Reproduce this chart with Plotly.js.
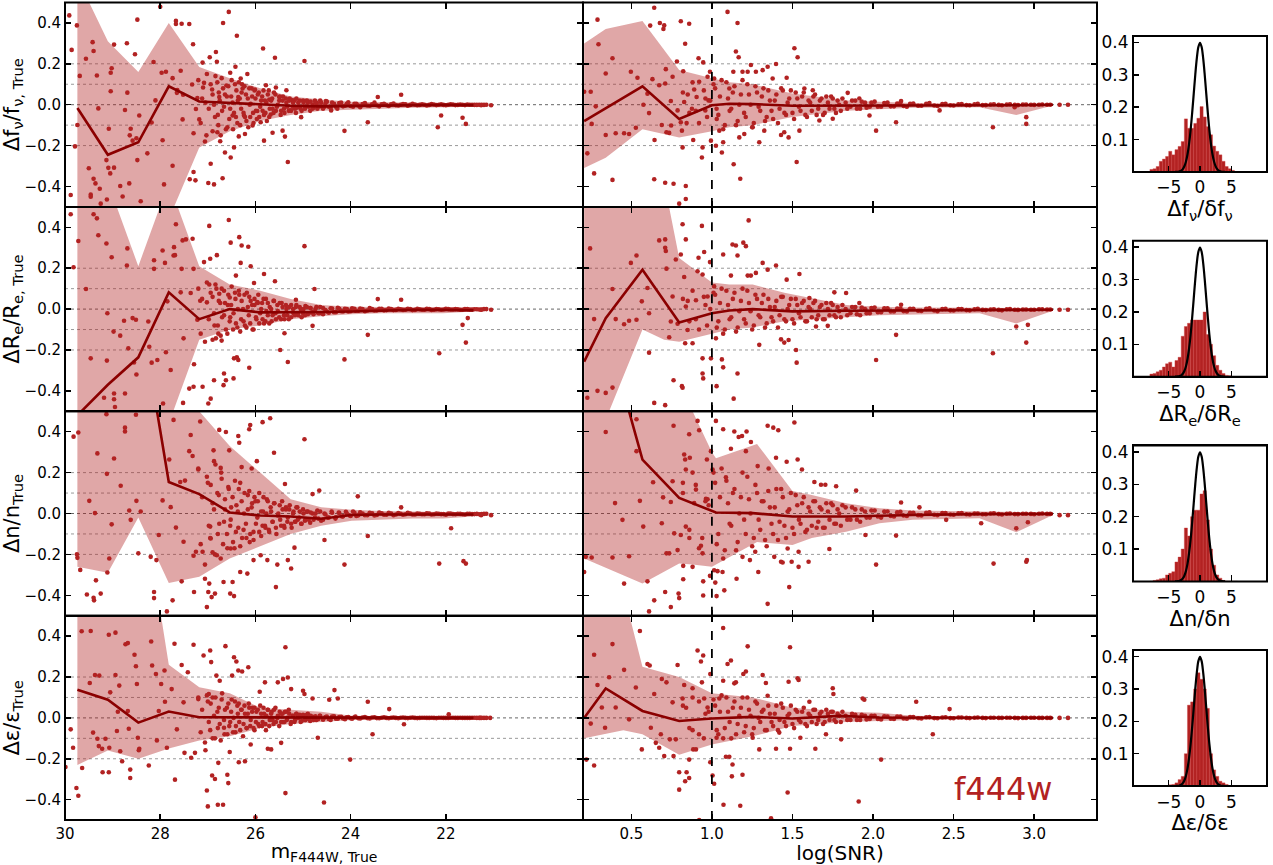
<!DOCTYPE html>
<html><head><meta charset="utf-8">
<script src="https://cdn.plot.ly/plotly-3.0.1.min.js"></script>
<style>html,body{margin:0;padding:0;background:#fff}#chart{width:1273px;height:865px}</style>
</head><body><div id="chart"></div>
<script>
// ---------------- DATA ----------------
const magTicks = [30, 28, 26, 24, 22];
const snrTicks = [0.5, 1.0, 1.5, 2.0, 2.5, 3.0];
const dyTicks = [-0.4, -0.2, 0, 0.2, 0.4];
const refLevels = [-0.2, -0.1, 0, 0.1, 0.2];
const histXTicks = [-5, 0, 5];
const histYTicks = [0.1, 0.2, 0.3, 0.4];
const snrCut = 1.0;

const rowTitles = ["Δf<sub>ν</sub>/f<sub>ν, True</sub>", "ΔR<sub>e</sub>/R<sub>e, True</sub>", "Δn/n<sub>True</sub>", "Δε/ε<sub>True</sub>"];
const histTitles = ["Δf<sub>ν</sub>/δf<sub>ν</sub>", "ΔR<sub>e</sub>/δR<sub>e</sub>", "Δn/δn", "Δε/δε"];
const magTitle = "m<sub>F444W, True</sub>";
const snrTitle = "log(SNR)";
const filterLabel = "f444w";

// binned medians and percentile bands vs magnitude
const magBins = [29.74, 29.10, 28.46, 27.82, 27.18, 26.54, 25.90, 25.26, 24.62, 23.98, 23.34, 22.70, 22.06, 21.42];
const medL1 = [-0.016, -0.245, -0.184, 0.09, 0.016, 0.008, 0.002, -0.005, -0.008, -0.006, -0.004, -0.002, -0.001, -0.002];
const upL1 = [0.62, 0.31, 0.16, 0.40, 0.185, 0.13, 0.08, 0.04, 0.025, 0.015, 0.012, 0.01, 0.008, 0.006];
const loL1 = [-0.6, -0.58, -0.56, -0.56, -0.21, -0.13, -0.08, -0.05, -0.03, -0.025, -0.02, -0.015, -0.012, -0.01];
const medL2 = [-0.52, -0.37, -0.236, 0.082, -0.049, 0.0, -0.016, -0.016, -0.014, -0.012, -0.008, -0.004, -0.004, -0.006];
const upL2 = [0.65, 0.62, 0.21, 0.62, 0.21, 0.12, 0.09, 0.05, 0.02, 0.012, 0.01, 0.008, 0.007, 0.006];
const loL2 = [-0.6, -0.6, -0.6, -0.56, -0.15, -0.10, -0.08, -0.05, -0.035, -0.025, -0.02, -0.02, -0.02, -0.012];
const medL3 = [null, null, 1.05, 0.154, 0.095, 0.005, -0.01, -0.015, -0.026, -0.007, -0.005, -0.004, -0.004, -0.005];
const upL3 = [0.62, 0.62, 0.62, 0.62, 0.5, 0.33, 0.2, 0.07, 0.03, 0.018, 0.012, 0.01, 0.008, 0.005];
const loL3 = [-0.26, -0.29, -0.02, -0.34, -0.31, -0.22, -0.16, -0.10, -0.06, -0.035, -0.03, -0.025, -0.025, -0.015];
const medL4 = [0.138, 0.089, -0.023, 0.031, 0.003, 0.003, 0.003, 0.002, 0.002, 0.001, 0.0, 0.0, 0.0, 0.0];
const upL4 = [0.62, 0.62, 1.2, 0.26, 0.15, 0.12, 0.05, 0.04, 0.03, 0.01, 0.008, 0.006, 0.005, 0.004];
const loL4 = [-0.23, -0.16, -0.2, -0.15, -0.11, -0.09, -0.05, -0.03, -0.02, -0.01, -0.008, -0.006, -0.005, -0.004];

// binned medians and bands vs log(SNR)
const medXM1 = [0.207, 0.569, 0.797, 1.0, 1.108, 1.253, 1.5, 1.833, 2.247, 2.661, 2.889, 3.117];
const medM1 = [-0.08, 0.09, -0.07, -0.003, 0.005, 0.003, -0.005, -0.005, -0.003, -0.002, -0.003, 0.0];
const bandXM1 = [0.207, 0.341, 0.569, 0.797, 1.0, 1.108, 1.253, 1.5, 1.833, 2.247, 2.661, 2.889, 3.117];
const upM1 = [0.30, 0.37, 0.41, 0.17, 0.13, 0.11, 0.10, 0.055, 0.02, 0.008, 0.006, 0.005, 0.004];
const loM1 = [-0.31, -0.26, -0.12, -0.16, -0.13, -0.11, -0.10, -0.06, -0.03, -0.015, -0.012, -0.05, -0.004];
const medXM2 = [0.207, 0.341, 0.569, 0.797, 1.0, 1.108, 1.253, 1.5, 1.833, 2.247, 2.661, 2.889, 3.117];
const medM2 = [-0.257, -0.044, 0.193, -0.066, -0.02, -0.007, 0.0, -0.011, -0.008, -0.006, -0.005, -0.006, -0.003];
const bandXM2 = [0.207, 0.30, 0.569, 0.704, 0.797, 1.0, 1.108, 1.253, 1.45, 1.65, 1.833, 2.04, 2.247, 2.661, 2.889, 3.117];
const upM2 = [0.62, 0.62, 0.62, 0.62, 0.25, 0.13, 0.12, 0.12, 0.08, 0.05, 0.02, 0.012, 0.008, 0.006, 0.005, 0.005];
const loM2 = [-0.62, -0.62, -0.1, -0.15, -0.16, -0.12, -0.10, -0.09, -0.06, -0.05, -0.04, -0.03, -0.025, -0.02, -0.07, -0.008];
const medXM3 = [0.341, 0.569, 0.797, 1.025, 1.253, 1.5, 1.833, 2.247, 2.661, 2.889, 3.117];
const medM3 = [0.91, 0.264, 0.076, 0.005, 0.002, -0.015, -0.015, -0.007, -0.003, -0.003, -0.002];
const bandXM3 = [0.207, 0.569, 0.797, 0.88, 1.0, 1.025, 1.28, 1.5, 1.62, 1.833, 2.04, 2.247, 2.661, 2.889, 3.117];
const upM3 = [0.62, 0.62, 0.62, 0.5, 0.30, 0.27, 0.34, 0.11, 0.09, 0.05, 0.026, 0.015, 0.01, 0.008, 0.005];
const loM3 = [-0.22, -0.343, -0.245, -0.25, -0.26, -0.25, -0.14, -0.154, -0.12, -0.089, -0.048, -0.03, -0.023, -0.092, -0.007];
const medXM4 = [0.207, 0.341, 0.569, 0.797, 1.0, 1.253, 1.5, 1.79, 2.04, 2.45, 2.8, 3.117];
const medM4 = [0.0, 0.144, 0.034, -0.015, -0.003, 0.005, -0.003, 0.01, 0.002, 0.0, 0.0, 0.0];
const bandXM4 = [0.207, 0.45, 0.569, 0.797, 1.0, 1.253, 1.5, 1.833, 2.04, 2.247, 2.661, 3.117];
const upM4 = [0.62, 0.62, 0.25, 0.2, 0.12, 0.1, 0.05, 0.03, 0.025, 0.01, 0.006, 0.004];
const loM4 = [-0.1, -0.06, -0.08, -0.18, -0.13, -0.09, -0.04, -0.02, -0.015, -0.01, -0.006, -0.004];

// histograms of normalised residuals
const histCenters = [-7.75,-7.25,-6.75,-6.25,-5.75,-5.25,-4.75,-4.25,-3.75,-3.25,-2.75,-2.25,-1.75,-1.25,-0.75,-0.25,0.25,0.75,1.25,1.75,2.25,2.75,3.25,3.75,4.25,4.75,5.25,5.75];
const hist1 = [0.008,0.01,0.017,0.033,0.04,0.048,0.064,0.053,0.069,0.079,0.094,0.164,0.135,0.135,0.15,0.166,0.202,0.17,0.14,0.115,0.08,0.064,0.053,0.033,0.017,0.01,0.005,0];
const hist2 = [0.008,0.01,0.015,0.02,0.03,0.04,0.045,0.03,0.05,0.06,0.125,0.155,0.165,0.175,0.175,0.175,0.175,0.2,0.13,0.1,0.065,0.035,0.02,0.01,0.004,0.003,0,0];
const hist3 = [0,0.003,0.005,0.008,0.01,0.02,0.025,0.03,0.06,0.075,0.1,0.165,0.14,0.2,0.22,0.22,0.27,0.28,0.19,0.1,0.05,0.02,0.01,0.003,0,0,0,0];
const hist4 = [0,0,0,0,0,0,0.004,0.005,0.01,0.02,0.03,0.1,0.25,0.26,0.3,0.35,0.33,0.3,0.24,0.1,0.05,0.03,0.015,0.01,0.005,0,0,0];
const gaussX = [-4,-3.75,-3.5,-3.25,-3,-2.75,-2.5,-2.25,-2,-1.75,-1.5,-1.25,-1,-0.75,-0.5,-0.25,0,0.25,0.5,0.75,1,1.25,1.5,1.75,2,2.25,2.5,2.75,3,3.25,3.5,3.75,4];
const gaussY = [0.0001,0.0004,0.0009,0.002,0.0044,0.0091,0.0175,0.0317,0.054,0.0863,0.1295,0.1826,0.242,0.3011,0.3521,0.3867,0.3989,0.3867,0.3521,0.3011,0.242,0.1826,0.1295,0.0863,0.054,0.0317,0.0175,0.0091,0.0044,0.002,0.0009,0.0004,0.0001];

// individual galaxies: [x, residual]
const outL1 = [[29.91,0.437],[29.86,0.268],[29.75,0.388],[29.69,0.141],[29.79,-0.204],[29.88,-0.442],[29.74,-0.099],[29.56,0.225],[29.5,-0.311],[29.42,0.306],[29.4,0.263],[29.33,0.143],[29.4,-0.362],[29.36,-0.385],[29.46,-0.44],[29.46,-0.45],[29.25,-0.484],[29.27,-0.411],[29.3,-0.018],[29.13,-0.271],[29.09,-0.309],[29.04,0.066],[29.08,-0.118],[29.04,0.156],[29.02,0.178],[28.97,0.294],[28.97,-0.308],[29.05,-0.336],[29.12,-0.464],[28.84,-0.398],[28.79,-0.449],[28.74,-0.026],[28.7,0.301],[28.69,0.059],[28.65,-0.385],[28.64,-0.15],[28.62,-0.118],[28.58,-0.176],[28.53,0.247],[28.5,-0.164],[28.48,0.416],[28.48,-0.271],[28.44,-0.053],[28.41,-0.472],[28.27,-0.238],[28.18,-0.087],[28.14,0.209],[28.1,0.021],[28.0,0.479],[27.97,0.156],[27.95,-0.174],[27.92,-0.39],[27.88,0.161],[27.74,-0.299],[27.74,0.13],[27.67,0.41],[27.67,0.395],[27.64,0.072],[27.65,0.058],[27.55,0.396],[27.57,0.166],[27.53,-0.072],[27.52,0.049],[27.39,0.395],[27.38,-0.365],[27.33,0.099],[27.31,0.296],[27.3,-0.329],[27.3,-0.14],[27.26,-0.37],[27.25,-0.021],[27.22,0.033],[27.18,-0.072],[27.11,0.206],[27.1,0.084],[27.08,0.107],[27.05,0.01],[27.03,-0.15],[26.99,-0.383],[26.96,0.232],[26.94,-0.289],[26.91,0.074],[26.87,-0.39],[26.83,0.258],[26.81,0.21],[26.8,-0.135],[26.76,0.038],[26.74,-0.179],[26.69,-0.36],[26.68,0.4],[26.64,-0.234],[26.61,0.094],[26.56,0.454],[26.53,0.156],[26.52,-0.258],[26.48,-0.053],[26.45,-0.209],[26.42,0.186],[26.39,0.337],[26.36,0.038],[26.35,-0.155],[26.31,0.128],[26.27,0.079],[26.24,-0.053],[26.22,-0.143],[26.17,0.15],[26.1,0.005],[26.06,-0.102],[26.01,0.074],[25.96,-0.031],[25.89,-0.086],[25.84,0.275],[25.82,-0.176],[25.78,0.095],[25.71,0.025],[25.68,-0.048],[25.64,-0.137],[25.59,0.23],[25.57,0.084],[25.5,0.038],[25.43,-0.127],[25.38,-0.156],[25.35,0.071],[25.32,-0.28],[25.27,-0.028],[25.22,0.021],[25.13,-0.015],[25.04,-0.061],[24.97,0.214],[24.9,0.016],[24.8,-0.02],[24.71,0.008],[24.62,-0.008],[24.52,0.018],[24.41,-0.028],[24.13,-0.128],[23.64,-0.086],[23.43,0.038],[22.94,0.049],[22.1,-0.053],[22.17,-0.11],[21.65,-0.064],[21.58,-0.094],[21.26,-0.003],[21.05,-0.003]];
const cloudL1 = [[26.9,0.05],[26.85,-0.06],[26.8,0.11],[26.78,-0.1],[26.75,0.02],[26.7,-0.03],[26.68,0.08],[26.62,-0.12],[26.6,0.04],[26.55,-0.07],[26.5,0.12],[26.48,0.01],[26.45,-0.04],[26.4,0.07],[26.38,-0.09],[26.33,0.03],[26.3,-0.02],[26.28,0.1],[26.22,-0.06],[26.2,0.05],[26.15,-0.11],[26.12,0.0],[26.08,0.08],[26.05,-0.04],[26.0,0.03],[25.97,-0.07],[25.93,0.06],[25.9,-0.01],[25.86,0.04],[25.82,-0.05],[25.8,0.02],[25.76,-0.08],[25.72,0.07],[25.7,-0.02],[25.65,0.03],[25.62,-0.04],[25.58,0.05],[25.55,-0.01],[25.5,0.02],[25.47,-0.05],[25.42,0.04],[25.4,-0.02],[25.35,0.01],[25.3,-0.03],[25.28,0.03],[25.22,-0.01],[25.18,0.02],[25.15,-0.04],[25.1,0.01],[25.05,-0.02],[25.0,0.02],[24.95,-0.01],[24.9,0.01],[24.85,-0.03],[24.8,0.0],[24.75,0.02],[24.7,-0.02],[24.62,0.01],[24.55,-0.01],[24.5,0.015],[24.42,-0.015],[24.35,0.005],[24.28,-0.02],[24.2,0.01],[24.12,-0.005],[24.05,0.012],[23.95,-0.01],[23.88,0.005],[23.8,-0.012],[23.7,0.008],[23.6,-0.005],[23.5,0.01],[23.4,-0.008],[23.3,0.004],[23.2,-0.006],[23.1,0.006],[23.0,-0.004],[22.9,0.003],[22.8,-0.005],[22.7,0.004],[22.6,-0.003],[22.5,0.002],[22.4,-0.004],[22.3,0.003],[22.2,-0.002],[22.1,0.002],[22.0,-0.003],[21.9,0.002],[21.8,-0.002],[21.7,0.001],[21.6,-0.002],[21.5,0.0],[21.4,-0.001],[21.3,0.0],[21.2,-0.001]];
const cloud2L1 = [[27.2,0.12],[27.15,-0.09],[27.12,0.03],[27.06,-0.18],[27.02,0.15],[26.98,-0.02],[26.94,0.1],[26.9,-0.13],[26.87,0.0],[26.84,0.14],[26.79,-0.05],[26.77,0.06],[26.73,-0.15],[26.71,0.13],[26.66,-0.01],[26.64,0.05],[26.59,-0.11],[26.57,0.09],[26.53,-0.02],[26.51,0.04],[26.47,-0.12],[26.43,0.1],[26.41,-0.06],[26.37,0.02],[26.35,0.11],[26.32,-0.1],[26.29,0.06],[26.25,-0.04],[26.23,0.09],[26.19,-0.08],[26.16,0.03],[26.13,0.08],[26.11,-0.06],[26.07,0.04],[26.04,-0.09],[26.02,0.07],[25.99,-0.03],[25.95,0.05],[25.92,-0.06],[25.88,0.02],[25.85,-0.03],[25.83,0.07],[25.79,-0.04],[25.77,0.01],[25.74,0.05],[25.71,-0.06],[25.67,0.02],[25.64,-0.02],[25.61,0.06],[25.57,-0.03],[25.53,0.0],[25.49,0.04],[25.46,-0.03],[25.43,0.02],[25.39,-0.04],[25.36,0.03],[25.33,-0.01],[25.29,0.02],[25.25,-0.03],[25.21,0.01],[25.17,-0.02],[25.14,0.03],[25.11,-0.01],[25.07,0.02],[25.03,-0.03],[24.99,0.01],[24.96,-0.02],[24.92,0.02],[24.88,-0.01],[24.84,0.015],[24.78,-0.015],[24.74,0.01],[24.68,-0.01],[24.64,0.02],[24.58,-0.02],[24.53,0.005],[24.46,-0.01],[24.39,0.01],[24.31,-0.01],[24.24,0.008],[24.16,-0.008],[24.08,0.005],[24.0,-0.006],[23.92,0.004],[23.84,-0.004],[23.75,0.003],[23.65,-0.004],[23.55,0.002],[23.45,-0.003],[23.35,0.002],[23.25,-0.002],[23.15,0.002],[23.05,-0.002],[22.95,0.0],[22.85,0.002],[22.75,-0.001],[22.65,0.001],[22.55,-0.001],[22.45,0.0],[22.35,-0.001],[22.25,0.001],[22.15,0.0],[22.05,-0.001],[21.95,0.0],[21.85,0.001],[21.75,-0.001],[21.65,0.0],[21.55,0.001],[21.45,0.0],[21.35,-0.001],[21.25,0.0],[21.15,0.0]];
const outM1 = [[0.207,0.063],[0.227,-0.238],[0.248,0.063],[0.254,-0.094],[0.269,-0.336],[0.279,-0.008],[0.29,0.416],[0.296,0.296],[0.341,0.153],[0.341,-0.148],[0.383,0.227],[0.383,-0.368],[0.403,-0.14],[0.455,-0.14],[0.486,-0.143],[0.497,0.161],[0.528,-0.113],[0.538,0.132],[0.575,0.0],[0.6,0.054],[0.61,-0.041],[0.617,0.387],[0.631,0.125],[0.642,0.474],[0.644,-0.173],[0.642,-0.365],[0.673,0.095],[0.677,0.4],[0.689,-0.099],[0.699,0.37],[0.704,0.388],[0.71,-0.382],[0.71,0.104],[0.714,0.174],[0.718,-0.135],[0.735,-0.138],[0.745,0.018],[0.747,-0.102],[0.756,0.137],[0.762,-0.387],[0.783,0.211],[0.787,-0.028],[0.797,-0.484],[0.807,0.408],[0.807,-0.086],[0.814,-0.127],[0.818,-0.209],[0.822,0.164],[0.828,0.013],[0.834,0.298],[0.838,-0.398],[0.838,-0.461],[0.843,-0.09],[0.859,0.396],[0.876,-0.02],[0.884,-0.173],[0.89,0.074],[0.905,0.038],[0.917,0.227],[0.921,0.112],[0.938,-0.258],[0.942,-0.209],[0.946,0.207],[0.959,-0.028],[0.973,0.137],[0.979,0.021],[0.988,0.161],[0.994,-0.176],[1.014,0.128],[1.025,-0.201],[1.029,-0.02],[1.046,-0.127],[1.062,-0.234],[1.07,-0.184],[1.097,0.454],[1.108,0.079],[1.133,0.161],[1.135,-0.291],[1.149,0.26],[1.159,0.4],[1.166,0.232],[1.17,-0.16],[1.176,-0.362],[1.19,0.161],[1.201,-0.143],[1.222,0.161],[1.242,0.194],[1.253,-0.11],[1.273,0.161],[1.294,-0.184],[1.315,0.169],[1.325,-0.127],[1.346,0.186],[1.377,0.128],[1.398,0.199],[1.429,-0.148],[1.449,-0.135],[1.464,0.132],[1.476,-0.16],[1.512,0.276],[1.526,-0.28],[1.532,0.232],[1.543,-0.127],[1.574,0.079],[1.626,0.071],[1.667,-0.077],[1.75,-0.069],[1.843,0.058],[1.915,0.03],[1.978,-0.053],[2.019,-0.127],[2.143,-0.086],[2.174,0.018],[2.413,-0.028],[2.744,-0.11],[2.879,-0.012],[2.951,-0.061],[2.951,-0.094],[3.158,0.0],[3.21,0.0]];
const cloudM1 = [[1.02,0.08],[1.04,-0.05],[1.06,0.12],[1.08,-0.1],[1.1,0.03],[1.12,-0.02],[1.14,0.09],[1.16,-0.08],[1.18,0.05],[1.2,-0.04],[1.22,0.1],[1.24,0.0],[1.26,-0.09],[1.28,0.06],[1.3,-0.03],[1.32,0.08],[1.34,-0.06],[1.36,0.02],[1.38,-0.07],[1.4,0.05],[1.42,-0.02],[1.44,0.07],[1.46,-0.05],[1.48,0.03],[1.5,-0.04],[1.52,0.06],[1.54,-0.01],[1.56,0.04],[1.58,-0.05],[1.6,0.02],[1.62,-0.03],[1.64,0.05],[1.66,-0.02],[1.68,0.03],[1.7,-0.04],[1.72,0.01],[1.74,0.04],[1.76,-0.02],[1.78,0.02],[1.8,-0.03],[1.83,0.01],[1.86,-0.01],[1.89,0.02],[1.92,-0.02],[1.95,0.01],[1.98,-0.01],[2.01,0.015],[2.05,-0.01],[2.09,0.01],[2.13,-0.008],[2.17,0.008],[2.21,-0.01],[2.25,0.006],[2.3,-0.005],[2.35,0.008],[2.4,-0.006],[2.45,0.004],[2.5,-0.004],[2.55,0.003],[2.6,-0.003],[2.65,0.004],[2.7,-0.002],[2.75,0.002],[2.8,-0.003],[2.85,0.002],[2.9,-0.002],[2.95,0.001],[3.0,-0.001],[3.05,0.001],[3.1,0.0],[0.85,0.05],[0.9,-0.03],[0.95,0.07],[0.97,-0.06],[0.99,0.02]];
const cloud2M1 = [[1.01,0.1],[1.03,-0.07],[1.05,0.04],[1.07,-0.12],[1.09,0.11],[1.11,-0.03],[1.13,0.06],[1.15,-0.1],[1.17,0.0],[1.19,0.12],[1.21,-0.06],[1.23,0.05],[1.25,-0.11],[1.27,0.09],[1.29,-0.01],[1.31,0.04],[1.33,-0.08],[1.35,0.07],[1.37,-0.03],[1.39,0.02],[1.41,-0.09],[1.43,0.08],[1.45,-0.04],[1.47,0.01],[1.49,0.07],[1.51,-0.07],[1.53,0.03],[1.55,-0.03],[1.57,0.06],[1.59,-0.06],[1.61,0.01],[1.63,0.04],[1.65,-0.05],[1.67,0.02],[1.69,-0.05],[1.71,0.04],[1.73,-0.02],[1.75,0.03],[1.77,-0.04],[1.79,0.0],[1.81,0.03],[1.84,-0.02],[1.87,0.02],[1.9,-0.02],[1.93,0.015],[1.96,-0.015],[1.99,0.01],[2.03,-0.01],[2.07,0.008],[2.11,-0.008],[2.15,0.006],[2.19,-0.006],[2.23,0.004],[2.28,-0.005],[2.33,0.004],[2.38,-0.004],[2.43,0.003],[2.48,-0.003],[2.53,0.002],[2.58,-0.002],[2.63,0.002],[2.68,-0.002],[2.73,0.001],[2.78,-0.001],[2.83,0.001],[2.88,-0.001],[2.93,0.001],[2.98,0.0],[3.03,0.0],[3.08,0.0],[0.82,0.06],[0.86,-0.04],[0.88,0.11],[0.92,-0.09],[0.96,0.03]];

const outL2 = [[29.88,0.464],[29.82,0.205],[29.72,0.333],[29.56,0.098],[29.46,-0.241],[29.4,0.464],[29.33,0.444],[29.3,0.361],[29.18,-0.434],[29.13,0.321],[29.11,-0.02],[29.12,-0.252],[29.02,0.254],[28.98,-0.11],[28.97,-0.413],[28.97,-0.441],[28.95,-0.479],[28.84,-0.13],[28.76,-0.057],[28.74,-0.413],[28.7,0.213],[28.69,0.297],[28.67,-0.192],[28.58,-0.044],[28.55,-0.261],[28.51,-0.052],[28.5,-0.32],[28.23,-0.184],[28.25,-0.061],[28.18,-0.262],[28.13,0.239],[28.13,0.197],[28.06,-0.249],[27.95,0.287],[27.94,-0.462],[27.9,0.226],[27.88,-0.211],[27.85,0.038],[27.78,-0.298],[27.72,0.262],[27.71,0.303],[27.67,0.415],[27.69,0.264],[27.57,0.082],[27.55,0.197],[27.53,0.336],[27.52,-0.459],[27.51,-0.143],[27.46,0.341],[27.39,-0.389],[27.36,0.079],[27.32,0.344],[27.3,-0.38],[27.3,0.197],[27.29,-0.27],[27.22,-0.052],[27.16,0.041],[27.11,-0.38],[27.08,0.23],[27.02,0.033],[26.99,-0.462],[26.97,0.407],[26.97,0.12],[26.95,0.246],[26.94,-0.438],[26.87,-0.348],[26.83,-0.143],[26.81,0.264],[26.76,0.075],[26.71,-0.154],[26.67,-0.372],[26.66,-0.315],[26.62,-0.348],[26.56,0.436],[26.54,0.057],[26.52,0.325],[26.46,-0.339],[26.45,-0.241],[26.41,0.164],[26.39,-0.236],[26.36,-0.249],[26.34,0.352],[26.31,0.226],[26.29,0.311],[26.13,-0.287],[26.15,0.305],[26.1,0.21],[26.03,0.128],[25.96,0.034],[25.82,0.172],[25.59,0.136],[25.48,-0.2],[25.39,-0.118],[25.32,-0.259],[25.15,0.046],[24.97,0.308],[24.8,-0.082],[24.76,0.098],[24.13,-0.246],[23.64,-0.126],[23.43,0.049],[22.94,0.046],[22.14,-0.216],[21.65,-0.077],[21.58,-0.164],[21.54,-0.044],[21.26,-0.003],[21.05,-0.003]];
const cloudL2 = [[26.9,0.06],[26.86,-0.08],[26.82,0.1],[26.78,-0.12],[26.74,0.03],[26.7,-0.04],[26.66,0.09],[26.62,-0.1],[26.58,0.02],[26.54,-0.06],[26.5,0.11],[26.46,-0.02],[26.42,0.05],[26.38,-0.09],[26.34,0.07],[26.3,-0.05],[26.26,0.0],[26.22,-0.08],[26.18,0.08],[26.14,-0.03],[26.1,0.04],[26.06,-0.1],[26.02,0.02],[25.98,-0.05],[25.94,0.07],[25.9,-0.02],[25.86,0.03],[25.82,-0.07],[25.78,0.05],[25.74,-0.03],[25.7,0.01],[25.66,-0.06],[25.62,0.04],[25.58,-0.02],[25.54,0.02],[25.5,-0.04],[25.45,0.03],[25.4,-0.03],[25.35,0.0],[25.3,-0.05],[25.25,0.02],[25.2,-0.02],[25.15,0.01],[25.1,-0.03],[25.05,0.0],[25.0,-0.02],[24.95,0.015],[24.9,-0.025],[24.85,0.005],[24.8,-0.015],[24.72,0.01],[24.65,-0.02],[24.58,0.005],[24.5,-0.012],[24.42,0.004],[24.35,-0.015],[24.27,0.006],[24.2,-0.01],[24.12,0.002],[24.05,-0.012],[23.97,0.004],[23.9,-0.008],[23.8,0.003],[23.7,-0.01],[23.6,0.005],[23.5,-0.007],[23.4,0.002],[23.3,-0.006],[23.2,0.003],[23.1,-0.005],[23.0,0.002],[22.9,-0.004],[22.8,0.002],[22.7,-0.005],[22.6,0.001],[22.5,-0.003],[22.4,0.001],[22.3,-0.004],[22.2,0.0],[22.1,-0.003],[22.0,0.001],[21.9,-0.002],[21.8,0.0],[21.7,-0.003],[21.6,0.0],[21.5,-0.002],[21.4,-0.001],[21.3,-0.002],[21.2,0.0]];
const cloud2L2 = [[27.2,0.1],[27.15,-0.12],[27.12,0.05],[27.06,-0.16],[27.02,0.13],[26.98,-0.05],[26.94,0.08],[26.9,-0.15],[26.87,-0.02],[26.84,0.12],[26.79,-0.08],[26.77,0.04],[26.73,-0.13],[26.71,0.1],[26.66,-0.03],[26.64,0.03],[26.59,-0.12],[26.57,0.07],[26.53,-0.04],[26.51,0.02],[26.47,-0.1],[26.43,0.08],[26.41,-0.07],[26.37,0.0],[26.35,0.09],[26.32,-0.11],[26.29,0.04],[26.25,-0.06],[26.23,0.07],[26.19,-0.09],[26.16,0.01],[26.13,0.06],[26.11,-0.07],[26.07,0.02],[26.04,-0.1],[26.02,0.05],[25.99,-0.04],[25.95,0.03],[25.92,-0.07],[25.88,0.0],[25.85,-0.05],[25.83,0.05],[25.79,-0.06],[25.77,-0.01],[25.74,0.03],[25.71,-0.07],[25.67,0.0],[25.64,-0.03],[25.61,0.04],[25.57,-0.05],[25.53,-0.01],[25.49,0.03],[25.46,-0.05],[25.43,0.01],[25.39,-0.05],[25.36,0.02],[25.33,-0.03],[25.29,0.01],[25.25,-0.04],[25.21,0.0],[25.17,-0.03],[25.14,0.02],[25.11,-0.02],[25.07,0.01],[25.03,-0.04],[24.99,0.0],[24.96,-0.03],[24.92,0.01],[24.88,-0.02],[24.84,0.005],[24.78,-0.025],[24.74,0.0],[24.68,-0.02],[24.64,0.01],[24.58,-0.025],[24.53,-0.005],[24.46,-0.018],[24.39,0.003],[24.31,-0.015],[24.24,0.002],[24.16,-0.012],[24.08,0.0],[24.0,-0.01],[23.92,0.002],[23.84,-0.008],[23.75,0.0],[23.65,-0.007],[23.55,0.0],[23.45,-0.006],[23.35,0.001],[23.25,-0.005],[23.15,0.0],[23.05,-0.004],[22.95,-0.001],[22.85,-0.003],[22.75,0.0],[22.65,-0.004],[22.55,-0.001],[22.45,-0.003],[22.35,0.0],[22.25,-0.003],[22.15,-0.001],[22.05,-0.002],[21.95,0.0],[21.85,-0.002],[21.75,-0.001],[21.65,-0.003],[21.55,0.0],[21.45,-0.002],[21.35,-0.001],[21.25,-0.002],[21.15,0.0]];
const outM2 = [[0.227,-0.434],[0.244,0.297],[0.269,-0.049],[0.29,-0.4],[0.341,-0.41],[0.383,0.098],[0.383,-0.384],[0.403,-0.049],[0.455,-0.074],[0.486,-0.057],[0.497,0.226],[0.532,0.262],[0.532,-0.052],[0.565,0.038],[0.6,0.103],[0.61,-0.213],[0.61,-0.02],[0.642,-0.459],[0.673,0.336],[0.71,0.341],[0.71,0.3],[0.714,0.284],[0.71,-0.47],[0.718,0.198],[0.735,-0.138],[0.745,-0.061],[0.756,0.062],[0.762,-0.348],[0.776,0.243],[0.787,-0.072],[0.807,0.267],[0.814,-0.377],[0.818,-0.385],[0.818,0.415],[0.828,0.157],[0.838,0.341],[0.834,-0.167],[0.838,0.013],[0.849,-0.102],[0.88,-0.167],[0.901,0.043],[0.911,0.185],[0.917,0.251],[0.938,0.407],[0.942,0.169],[0.942,-0.241],[0.942,-0.315],[0.946,-0.339],[0.952,0.279],[0.973,0.062],[0.988,0.23],[0.994,-0.241],[1.014,0.111],[1.025,-0.143],[1.029,-0.377],[1.062,-0.246],[1.07,0.267],[1.07,-0.285],[1.118,0.164],[1.128,0.316],[1.135,-0.438],[1.149,0.311],[1.159,0.262],[1.159,-0.315],[1.195,0.325],[1.211,0.308],[1.222,0.164],[1.228,0.434],[1.242,0.164],[1.273,0.177],[1.294,-0.175],[1.315,0.226],[1.346,0.193],[1.398,0.213],[1.429,-0.148],[1.449,-0.164],[1.464,0.144],[1.476,-0.151],[1.522,-0.2],[1.526,-0.262],[1.543,0.172],[1.605,0.054],[1.646,-0.085],[1.719,-0.082],[1.76,0.082],[1.833,0.079],[1.915,0.03],[2.019,-0.249],[2.143,-0.126],[2.174,0.021],[2.744,-0.216],[2.889,-0.085],[2.951,-0.164],[2.961,-0.077],[3.158,-0.003],[3.21,-0.003]];
const cloudM2 = [[1.02,0.07],[1.04,-0.06],[1.06,0.1],[1.08,-0.1],[1.1,0.02],[1.12,-0.04],[1.14,0.08],[1.16,-0.09],[1.18,0.04],[1.2,-0.05],[1.22,0.09],[1.24,-0.01],[1.26,-0.08],[1.28,0.05],[1.3,-0.04],[1.32,0.07],[1.34,-0.07],[1.36,0.01],[1.38,-0.06],[1.4,0.04],[1.42,-0.03],[1.44,0.06],[1.46,-0.06],[1.48,0.02],[1.5,-0.05],[1.52,0.05],[1.54,-0.02],[1.56,0.03],[1.58,-0.06],[1.6,0.01],[1.62,-0.04],[1.64,0.04],[1.66,-0.03],[1.68,0.02],[1.7,-0.05],[1.72,0.0],[1.74,0.03],[1.76,-0.03],[1.78,0.01],[1.8,-0.04],[1.83,0.0],[1.86,-0.02],[1.89,0.01],[1.92,-0.03],[1.95,0.0],[1.98,-0.02],[2.01,0.008],[2.05,-0.015],[2.09,0.004],[2.13,-0.012],[2.17,0.003],[2.21,-0.012],[2.25,0.002],[2.3,-0.009],[2.35,0.004],[2.4,-0.01],[2.45,0.001],[2.5,-0.007],[2.55,0.0],[2.6,-0.006],[2.65,0.002],[2.7,-0.005],[2.75,-0.001],[2.8,-0.006],[2.85,0.0],[2.9,-0.004],[2.95,-0.002],[3.0,-0.003],[3.05,-0.001],[3.1,-0.002],[0.85,0.04],[0.9,-0.05],[0.95,0.06],[0.97,-0.08],[0.99,0.0]];
const cloud2M2 = [[1.01,0.08],[1.03,-0.09],[1.05,0.03],[1.07,-0.12],[1.09,0.09],[1.11,-0.05],[1.13,0.05],[1.15,-0.11],[1.17,-0.01],[1.19,0.1],[1.21,-0.07],[1.23,0.03],[1.25,-0.1],[1.27,0.07],[1.29,-0.03],[1.31,0.03],[1.33,-0.09],[1.35,0.05],[1.37,-0.04],[1.39,0.01],[1.41,-0.09],[1.43,0.06],[1.45,-0.05],[1.47,0.0],[1.49,0.05],[1.51,-0.07],[1.53,0.02],[1.55,-0.04],[1.57,0.04],[1.59,-0.06],[1.61,0.0],[1.63,0.03],[1.65,-0.05],[1.67,0.01],[1.69,-0.05],[1.71,0.03],[1.73,-0.03],[1.75,0.02],[1.77,-0.04],[1.79,-0.01],[1.81,0.02],[1.84,-0.03],[1.87,0.01],[1.9,-0.025],[1.93,0.008],[1.96,-0.02],[1.99,0.005],[2.03,-0.015],[2.07,0.004],[2.11,-0.012],[2.15,0.003],[2.19,-0.01],[2.23,0.002],[2.28,-0.008],[2.33,0.001],[2.38,-0.007],[2.43,0.0],[2.48,-0.006],[2.53,0.0],[2.58,-0.005],[2.63,-0.001],[2.68,-0.004],[2.73,-0.002],[2.78,-0.004],[2.83,-0.001],[2.88,-0.003],[2.93,-0.002],[2.98,-0.003],[3.03,-0.001],[3.08,-0.002],[0.82,0.05],[0.86,-0.06],[0.88,0.09],[0.92,-0.1],[0.96,0.02]];

const outL3 = [[29.82,0.376],[29.75,-0.199],[29.74,-0.217],[29.72,0.396],[29.68,-0.276],[29.54,-0.396],[29.49,0.062],[29.4,-0.412],[29.39,-0.425],[29.37,0.002],[29.35,-0.327],[29.32,0.294],[29.25,-0.392],[29.13,0.486],[29.12,0.194],[29.11,-0.289],[29.07,-0.22],[29.02,-0.053],[28.97,0.269],[28.83,0.136],[28.74,0.42],[28.74,0.401],[28.65,0.015],[28.62,-0.031],[28.51,0.483],[28.5,0.062],[28.46,-0.195],[28.41,0.01],[28.2,-0.212],[28.13,-0.384],[28.13,-0.414],[28.08,-0.228],[28.03,-0.105],[27.95,0.064],[27.86,-0.479],[27.81,0.264],[27.78,0.031],[27.74,-0.425],[27.72,0.458],[27.67,-0.069],[27.58,0.154],[27.55,-0.332],[27.51,-0.138],[27.48,0.161],[27.39,0.305],[27.36,0.384],[27.32,0.281],[27.3,-0.207],[27.29,-0.384],[27.25,-0.187],[27.2,0.215],[27.16,0.45],[27.11,-0.187],[27.06,-0.319],[27.02,-0.458],[26.99,-0.384],[26.97,-0.343],[26.95,-0.064],[26.94,-0.122],[26.92,-0.409],[26.88,0.309],[26.87,0.256],[26.85,-0.392],[26.81,-0.204],[26.76,0.409],[26.73,0.223],[26.67,-0.335],[26.62,0.399],[26.55,0.309],[26.53,-0.392],[26.52,-0.171],[26.48,-0.335],[26.45,-0.404],[26.36,0.379],[26.34,0.346],[26.32,-0.286],[26.29,0.227],[26.17,-0.294],[26.13,0.412],[26.11,0.433],[26.08,0.22],[26.04,-0.228],[25.97,0.256],[25.89,-0.204],[25.85,0.447],[25.75,-0.228],[25.69,0.466],[25.61,0.297],[25.57,-0.36],[25.54,-0.25],[25.38,0.144],[25.32,-0.228],[25.25,-0.269],[25.18,-0.167],[24.97,0.363],[24.8,0.095],[24.66,0.112],[24.55,-0.13],[24.13,-0.25],[23.85,0.084],[23.64,-0.11],[22.94,0.03],[22.14,-0.245],[21.89,-0.072],[21.63,-0.233],[21.58,-0.245],[21.26,-0.008],[21.05,-0.008]];
const cloudL3 = [[27.0,0.15],[26.95,-0.12],[26.9,0.05],[26.85,-0.2],[26.8,0.1],[26.76,-0.05],[26.72,0.2],[26.68,-0.15],[26.64,0.02],[26.6,-0.1],[26.56,0.12],[26.52,-0.03],[26.48,0.08],[26.44,-0.17],[26.4,0.04],[26.36,-0.07],[26.32,0.15],[26.28,-0.12],[26.24,0.0],[26.2,-0.05],[26.16,0.09],[26.12,-0.14],[26.08,0.03],[26.04,-0.09],[26.0,0.06],[25.96,-0.02],[25.92,0.1],[25.88,-0.11],[25.84,0.01],[25.8,-0.06],[25.76,0.07],[25.72,-0.08],[25.68,0.03],[25.64,-0.04],[25.6,0.05],[25.56,-0.1],[25.52,0.0],[25.48,-0.03],[25.44,0.06],[25.4,-0.06],[25.36,0.02],[25.32,-0.02],[25.28,0.04],[25.24,-0.07],[25.2,0.01],[25.16,-0.04],[25.12,0.03],[25.08,-0.02],[25.04,-0.05],[25.0,0.02],[24.95,-0.03],[24.9,0.01],[24.85,-0.045],[24.8,0.0],[24.75,-0.02],[24.7,0.015],[24.62,-0.035],[24.55,0.0],[24.48,-0.02],[24.4,0.01],[24.32,-0.025],[24.25,0.005],[24.18,-0.015],[24.1,0.008],[24.02,-0.01],[23.95,0.01],[23.88,-0.012],[23.8,0.006],[23.7,-0.008],[23.6,0.004],[23.5,-0.01],[23.4,0.005],[23.3,-0.006],[23.2,0.003],[23.1,-0.008],[23.0,0.002],[22.9,-0.006],[22.8,0.003],[22.7,-0.005],[22.6,0.0],[22.5,-0.004],[22.4,0.001],[22.3,-0.005],[22.2,0.0],[22.1,-0.003],[22.0,-0.006],[21.9,0.0],[21.8,-0.004],[21.7,-0.002],[21.6,-0.005],[21.5,-0.001],[21.4,-0.003],[21.3,-0.004],[21.2,-0.002]];
const cloud2L3 = [[27.2,0.22],[27.15,-0.15],[27.12,0.08],[27.06,-0.25],[27.02,0.18],[26.98,-0.06],[26.94,0.14],[26.9,-0.19],[26.87,0.02],[26.84,0.24],[26.79,-0.1],[26.77,0.09],[26.73,-0.22],[26.71,0.17],[26.66,-0.04],[26.64,0.07],[26.59,-0.17],[26.57,0.13],[26.53,-0.06],[26.51,0.03],[26.47,-0.14],[26.43,0.16],[26.41,-0.09],[26.37,0.01],[26.35,0.12],[26.32,-0.16],[26.29,0.06],[26.25,-0.08],[26.23,0.1],[26.19,-0.12],[26.16,0.02],[26.13,0.11],[26.11,-0.1],[26.07,0.05],[26.04,-0.13],[26.02,0.08],[25.99,-0.05],[25.95,0.06],[25.92,-0.09],[25.88,0.01],[25.85,-0.06],[25.83,0.08],[25.79,-0.07],[25.77,0.0],[25.74,0.06],[25.71,-0.09],[25.67,0.01],[25.64,-0.04],[25.61,0.05],[25.57,-0.07],[25.53,-0.01],[25.49,0.04],[25.46,-0.06],[25.43,0.02],[25.39,-0.07],[25.36,0.03],[25.33,-0.04],[25.29,0.02],[25.25,-0.05],[25.21,0.0],[25.17,-0.04],[25.14,0.03],[25.11,-0.03],[25.07,0.01],[25.03,-0.05],[24.99,0.0],[24.96,-0.035],[24.92,0.01],[24.88,-0.03],[24.84,0.005],[24.78,-0.03],[24.74,0.0],[24.68,-0.025],[24.64,0.01],[24.58,-0.03],[24.53,-0.005],[24.46,-0.02],[24.39,0.004],[24.31,-0.018],[24.24,0.002],[24.16,-0.014],[24.08,0.0],[24.0,-0.012],[23.92,0.003],[23.84,-0.009],[23.75,0.0],[23.65,-0.008],[23.55,0.001],[23.45,-0.007],[23.35,0.001],[23.25,-0.006],[23.15,0.0],[23.05,-0.005],[22.95,-0.001],[22.85,-0.004],[22.75,0.0],[22.65,-0.005],[22.55,-0.001],[22.45,-0.004],[22.35,0.0],[22.25,-0.004],[22.15,-0.001],[22.05,-0.003],[21.95,0.0],[21.85,-0.003],[21.75,-0.001],[21.65,-0.004],[21.55,-0.001],[21.45,-0.003],[21.35,-0.002],[21.25,-0.003],[21.15,-0.001]];
const outM3 = [[0.207,-0.286],[0.217,-0.212],[0.254,-0.215],[0.341,0.399],[0.383,-0.215],[0.399,0.051],[0.445,-0.031],[0.455,-0.343],[0.486,-0.209],[0.532,0.461],[0.532,0.305],[0.553,0.062],[0.574,-0.064],[0.6,-0.332],[0.61,-0.479],[0.635,0.153],[0.642,-0.425],[0.689,-0.048],[0.71,-0.384],[0.697,0.079],[0.718,-0.195],[0.735,-0.195],[0.745,0.056],[0.745,-0.458],[0.756,0.158],[0.762,0.429],[0.766,-0.097],[0.787,-0.179],[0.793,-0.392],[0.797,-0.414],[0.807,-0.105],[0.822,-0.322],[0.822,-0.256],[0.828,0.289],[0.834,0.264],[0.838,0.215],[0.838,-0.064],[0.859,0.388],[0.863,0.273],[0.88,-0.261],[0.89,0.051],[0.901,0.117],[0.911,0.453],[0.921,0.407],[0.932,-0.158],[0.942,-0.195],[0.946,-0.332],[0.946,-0.401],[0.963,0.072],[0.969,0.264],[0.973,0.07],[0.988,-0.305],[0.994,0.305],[1.004,0.215],[1.014,-0.278],[1.021,-0.338],[1.025,0.453],[1.029,-0.404],[1.035,-0.282],[1.066,-0.286],[1.07,0.412],[1.077,-0.376],[1.087,0.177],[1.118,0.317],[1.139,0.401],[1.153,-0.319],[1.166,0.374],[1.187,0.379],[1.19,-0.212],[1.211,0.305],[1.215,0.401],[1.236,-0.228],[1.242,0.35],[1.269,-0.187],[1.284,0.232],[1.288,-0.286],[1.346,0.429],[1.346,-0.442],[1.352,0.22],[1.381,0.42],[1.387,-0.212],[1.398,0.273],[1.412,0.407],[1.429,-0.236],[1.439,-0.24],[1.464,0.253],[1.47,-0.171],[1.48,-0.36],[1.495,-0.236],[1.512,0.445],[1.532,0.264],[1.538,-0.261],[1.538,-0.187],[1.559,0.215],[1.6,-0.236],[1.636,0.154],[1.677,0.141],[1.704,0.141],[1.729,-0.174],[1.771,0.133],[1.895,0.112],[1.953,-0.105],[2.019,-0.25],[2.143,-0.108],[2.174,0.054],[2.288,0.03],[2.454,-0.031],[2.671,-0.048],[2.748,-0.245],[2.889,-0.072],[2.951,-0.236],[2.955,-0.228],[2.961,-0.043],[3.158,-0.008],[3.21,-0.008]];
const cloudM3 = [[1.02,0.15],[1.04,-0.1],[1.06,0.22],[1.08,-0.18],[1.1,0.05],[1.12,-0.06],[1.14,0.12],[1.16,-0.14],[1.18,0.08],[1.2,-0.03],[1.22,0.18],[1.24,0.0],[1.26,-0.12],[1.28,0.1],[1.3,-0.08],[1.32,0.06],[1.34,-0.16],[1.36,0.03],[1.38,-0.1],[1.4,0.12],[1.42,-0.04],[1.44,0.08],[1.46,-0.12],[1.48,0.02],[1.5,-0.07],[1.52,0.09],[1.54,-0.03],[1.56,0.05],[1.58,-0.09],[1.6,0.03],[1.62,-0.06],[1.64,0.06],[1.66,-0.04],[1.68,0.02],[1.7,-0.07],[1.72,0.01],[1.74,0.05],[1.76,-0.05],[1.78,0.02],[1.8,-0.06],[1.83,0.03],[1.86,-0.03],[1.89,0.02],[1.92,-0.04],[1.95,0.01],[1.98,-0.02],[2.01,0.015],[2.05,-0.02],[2.09,0.01],[2.13,-0.015],[2.17,0.008],[2.21,-0.012],[2.25,0.004],[2.3,-0.01],[2.35,0.006],[2.4,-0.008],[2.45,0.002],[2.5,-0.006],[2.55,0.002],[2.6,-0.005],[2.65,0.0],[2.7,-0.004],[2.75,0.001],[2.8,-0.005],[2.85,0.0],[2.9,-0.003],[2.95,-0.001],[3.0,-0.004],[3.05,0.0],[3.1,-0.002],[0.82,0.1],[0.86,-0.08],[0.9,0.14],[0.94,-0.12],[0.98,0.04]];
const cloud2M3 = [[1.01,0.2],[1.03,-0.15],[1.05,0.08],[1.07,-0.22],[1.09,0.16],[1.11,-0.05],[1.13,0.1],[1.15,-0.18],[1.17,0.0],[1.19,0.2],[1.21,-0.1],[1.23,0.07],[1.25,-0.16],[1.27,0.14],[1.29,-0.03],[1.31,0.06],[1.33,-0.13],[1.35,0.11],[1.37,-0.05],[1.39,0.03],[1.41,-0.13],[1.43,0.12],[1.45,-0.06],[1.47,0.01],[1.49,0.1],[1.51,-0.1],[1.53,0.04],[1.55,-0.05],[1.57,0.08],[1.59,-0.08],[1.61,0.01],[1.63,0.06],[1.65,-0.07],[1.67,0.03],[1.69,-0.07],[1.71,0.05],[1.73,-0.03],[1.75,0.04],[1.77,-0.05],[1.79,0.0],[1.81,0.04],[1.84,-0.03],[1.87,0.03],[1.9,-0.03],[1.93,0.02],[1.96,-0.02],[1.99,0.015],[2.03,-0.015],[2.07,0.01],[2.11,-0.012],[2.15,0.006],[2.19,-0.01],[2.23,0.004],[2.28,-0.008],[2.33,0.003],[2.38,-0.006],[2.43,0.002],[2.48,-0.005],[2.53,0.001],[2.58,-0.004],[2.63,0.0],[2.68,-0.004],[2.73,0.0],[2.78,-0.003],[2.83,-0.001],[2.88,-0.003],[2.93,-0.001],[2.98,-0.002],[3.03,-0.001],[3.08,-0.002],[0.82,0.15],[0.86,-0.12],[0.88,0.2],[0.92,-0.17],[0.96,0.06]];

const outL4 = [[29.99,-0.24],[29.88,-0.056],[29.83,-0.146],[29.76,-0.343],[29.72,-0.381],[29.64,-0.245],[29.65,0.424],[29.46,0.425],[29.48,0.171],[29.41,-0.072],[29.37,0.21],[29.32,-0.102],[29.29,-0.138],[29.28,0.207],[29.22,-0.151],[29.21,-0.266],[29.15,-0.102],[29.08,0.407],[29.07,-0.146],[29.08,-0.266],[29.05,0.125],[28.94,0.21],[28.94,0.417],[28.91,-0.064],[28.89,0.03],[28.86,0.158],[28.84,-0.163],[28.8,-0.212],[28.73,0.36],[28.68,0.366],[28.68,0.034],[28.66,-0.053],[28.63,-0.253],[28.63,-0.294],[28.54,0.309],[28.51,0.253],[28.49,0.166],[28.47,-0.097],[28.45,-0.158],[28.44,-0.151],[28.24,-0.233],[28.19,0.374],[28.17,0.256],[28.09,0.215],[28.07,-0.11],[28.03,0.034],[27.98,0.166],[27.91,0.232],[27.9,0.079],[27.86,-0.146],[27.76,0.141],[27.7,0.363],[27.69,-0.302],[27.65,-0.056],[27.55,0.259],[27.51,0.076],[27.49,-0.171],[27.42,0.223],[27.35,-0.195],[27.3,0.358],[27.27,-0.171],[27.2,0.092],[27.09,0.305],[27.05,-0.158],[27.02,-0.355],[27.0,-0.433],[26.98,0.117],[26.95,0.33],[26.93,0.273],[26.91,-0.282],[26.85,-0.299],[26.82,0.207],[26.79,-0.425],[26.78,-0.22],[26.75,0.182],[26.68,-0.425],[26.66,-0.048],[26.63,0.351],[26.59,-0.278],[26.57,-0.319],[26.54,-0.167],[26.49,0.207],[26.45,0.297],[26.4,0.276],[26.36,0.232],[26.35,-0.217],[26.28,0.227],[26.22,-0.212],[26.15,0.248],[26.1,-0.13],[26.0,-0.486],[25.91,0.128],[25.8,0.174],[25.74,-0.151],[25.67,-0.154],[25.53,0.174],[25.46,-0.122],[25.42,0.19],[25.37,0.346],[25.37,-0.368],[25.32,0.198],[25.25,0.141],[25.0,0.133],[24.97,0.117],[24.8,0.095],[24.69,-0.097],[24.56,-0.414],[24.45,0.089],[24.34,0.136],[24.27,0.095],[24.01,-0.204],[23.64,0.079],[23.54,-0.08],[23.19,0.043],[22.88,-0.031],[21.94,0.018],[21.28,0.0],[21.07,0.0]];
const cloudL4 = [[27.0,0.08],[26.95,-0.06],[26.9,0.1],[26.85,-0.1],[26.8,0.03],[26.75,-0.03],[26.7,0.12],[26.65,-0.08],[26.6,0.05],[26.55,-0.04],[26.5,0.09],[26.46,0.0],[26.42,-0.07],[26.38,0.06],[26.34,-0.02],[26.3,0.04],[26.26,-0.09],[26.22,0.02],[26.18,-0.05],[26.14,0.07],[26.1,-0.01],[26.06,0.05],[26.02,-0.06],[25.98,0.03],[25.94,-0.03],[25.9,0.06],[25.86,-0.04],[25.82,0.02],[25.78,-0.06],[25.74,0.04],[25.7,-0.01],[25.66,0.03],[25.62,-0.03],[25.58,0.05],[25.54,0.0],[25.5,-0.04],[25.46,0.02],[25.42,-0.02],[25.38,0.03],[25.34,-0.01],[25.3,0.04],[25.26,-0.03],[25.22,0.01],[25.18,-0.02],[25.14,0.02],[25.1,0.0],[25.05,-0.02],[25.0,0.015],[24.95,-0.01],[24.9,0.02],[24.85,-0.015],[24.8,0.005],[24.72,-0.01],[24.65,0.01],[24.58,-0.008],[24.5,0.006],[24.42,-0.01],[24.35,0.008],[24.27,-0.004],[24.2,0.005],[24.12,-0.006],[24.05,0.004],[23.97,-0.004],[23.9,0.006],[23.8,-0.003],[23.7,0.004],[23.6,-0.003],[23.5,0.003],[23.4,-0.002],[23.3,0.003],[23.2,-0.002],[23.1,0.002],[23.0,-0.002],[22.9,0.002],[22.8,-0.001],[22.7,0.002],[22.6,-0.001],[22.5,0.001],[22.4,0.0],[22.3,0.001],[22.2,-0.001],[22.1,0.001],[22.0,0.0],[21.9,0.001],[21.8,0.0],[21.7,0.001],[21.6,0.0],[21.5,0.0],[21.4,0.001],[21.3,0.0],[21.2,0.0]];
const cloud2L4 = [[27.2,0.1],[27.15,-0.07],[27.12,0.04],[27.06,-0.12],[27.02,0.11],[26.98,-0.02],[26.94,0.07],[26.9,-0.1],[26.87,0.01],[26.84,0.1],[26.79,-0.05],[26.77,0.05],[26.73,-0.11],[26.71,0.09],[26.66,-0.01],[26.64,0.04],[26.59,-0.08],[26.57,0.07],[26.53,-0.02],[26.51,0.03],[26.47,-0.07],[26.43,0.08],[26.41,-0.04],[26.37,0.02],[26.35,0.07],[26.32,-0.06],[26.29,0.04],[26.25,-0.03],[26.23,0.06],[26.19,-0.05],[26.16,0.02],[26.13,0.05],[26.11,-0.04],[26.07,0.03],[26.04,-0.05],[26.02,0.05],[25.99,-0.02],[25.95,0.04],[25.92,-0.04],[25.88,0.02],[25.85,-0.02],[25.83,0.05],[25.79,-0.03],[25.77,0.01],[25.74,0.04],[25.71,-0.04],[25.67,0.02],[25.64,-0.01],[25.61,0.04],[25.57,-0.02],[25.53,0.01],[25.49,0.03],[25.46,-0.02],[25.43,0.02],[25.39,-0.02],[25.36,0.03],[25.33,0.0],[25.29,0.02],[25.25,-0.02],[25.21,0.01],[25.17,-0.01],[25.14,0.02],[25.11,0.0],[25.07,0.015],[25.03,-0.015],[24.99,0.01],[24.96,-0.01],[24.92,0.015],[24.88,-0.005],[24.84,0.01],[24.78,-0.01],[24.74,0.008],[24.68,-0.005],[24.64,0.01],[24.58,-0.008],[24.53,0.004],[24.46,-0.005],[24.39,0.006],[24.31,-0.004],[24.24,0.004],[24.16,-0.003],[24.08,0.003],[24.0,-0.002],[23.92,0.003],[23.84,-0.002],[23.75,0.002],[23.65,-0.001],[23.55,0.002],[23.45,-0.001],[23.35,0.001],[23.25,0.0],[23.15,0.001],[23.05,0.0],[22.95,0.001],[22.85,0.0],[22.75,0.001],[22.65,0.0],[22.55,0.0],[22.45,0.001],[22.35,0.0],[22.25,0.0],[22.15,0.001],[22.05,0.0],[21.95,0.0],[21.85,0.001],[21.75,0.0],[21.65,0.0],[21.55,0.0],[21.45,0.001],[21.35,0.0],[21.25,0.0],[21.15,0.0]];
const outM4 = [[0.221,-0.204],[0.269,-0.233],[0.269,0.309],[0.248,-0.028],[0.29,0.161],[0.317,0.051],[0.337,-0.048],[0.362,0.199],[0.383,0.361],[0.403,0.051],[0.455,0.235],[0.486,-0.007],[0.528,0.149],[0.553,0.425],[0.565,-0.154],[0.6,0.264],[0.614,0.256],[0.621,-0.048],[0.642,0.117],[0.652,-0.122],[0.673,-0.146],[0.683,-0.08],[0.689,0.19],[0.704,-0.187],[0.718,0.174],[0.739,-0.105],[0.756,0.076],[0.762,-0.187],[0.776,-0.105],[0.787,0.259],[0.797,-0.266],[0.797,-0.351],[0.818,0.095],[0.828,0.161],[0.834,-0.31],[0.843,-0.266],[0.859,-0.294],[0.859,-0.204],[0.88,0.145],[0.884,-0.154],[0.901,-0.154],[0.911,0.33],[0.921,-0.5],[0.932,0.276],[0.938,0.174],[0.946,0.305],[0.952,0.095],[0.973,0.051],[0.99,-0.217],[0.99,0.215],[1.004,-0.282],[1.014,-0.322],[1.029,-0.097],[1.046,0.095],[1.07,0.44],[1.07,0.182],[1.072,-0.425],[1.087,-0.19],[1.097,0.264],[1.108,-0.19],[1.118,0.281],[1.124,-0.286],[1.128,-0.228],[1.139,0.169],[1.149,0.174],[1.176,-0.43],[1.19,-0.278],[1.195,0.215],[1.211,0.227],[1.222,0.35],[1.253,-0.097],[1.294,-0.154],[1.315,0.21],[1.335,0.171],[1.346,0.108],[1.367,-0.491],[1.398,-0.151],[1.418,-0.072],[1.47,-0.365],[1.476,0.177],[1.485,0.346],[1.485,-0.151],[1.532,0.194],[1.538,0.186],[1.549,-0.097],[1.605,0.079],[1.642,-0.151],[1.708,-0.08],[1.75,0.145],[1.754,0.117],[1.802,-0.105],[1.911,-0.409],[1.936,0.095],[1.946,0.089],[2.05,-0.204],[2.268,0.079],[2.371,-0.08],[2.475,0.043],[3.158,0.0],[3.21,0.0]];
const cloudM4 = [[1.02,0.06],[1.04,-0.08],[1.06,0.11],[1.08,-0.05],[1.1,0.03],[1.12,-0.1],[1.14,0.08],[1.16,-0.03],[1.18,0.05],[1.2,-0.07],[1.22,0.1],[1.24,0.01],[1.26,-0.05],[1.28,0.07],[1.3,-0.02],[1.32,0.04],[1.34,-0.06],[1.36,0.02],[1.38,-0.04],[1.4,0.06],[1.42,-0.01],[1.44,0.05],[1.46,-0.04],[1.48,0.02],[1.5,-0.03],[1.52,0.04],[1.54,-0.01],[1.56,0.03],[1.58,-0.03],[1.6,0.02],[1.62,-0.02],[1.64,0.04],[1.66,-0.01],[1.68,0.03],[1.7,-0.02],[1.72,0.02],[1.74,0.03],[1.76,-0.01],[1.78,0.02],[1.8,-0.02],[1.83,0.01],[1.86,-0.01],[1.89,0.015],[1.92,-0.01],[1.95,0.01],[1.98,-0.005],[2.01,0.01],[2.05,-0.008],[2.09,0.006],[2.13,-0.005],[2.17,0.006],[2.21,-0.004],[2.25,0.004],[2.3,-0.003],[2.35,0.004],[2.4,-0.002],[2.45,0.003],[2.5,-0.002],[2.55,0.002],[2.6,-0.001],[2.65,0.002],[2.7,-0.001],[2.75,0.001],[2.8,0.0],[2.85,0.001],[2.9,-0.001],[2.95,0.0],[3.0,0.001],[3.05,0.0],[3.1,0.0],[0.84,0.05],[0.88,-0.06],[0.92,0.08],[0.95,-0.1],[0.98,0.03]];
const cloud2M4 = [[1.01,0.09],[1.03,-0.06],[1.05,0.03],[1.07,-0.1],[1.09,0.1],[1.11,-0.02],[1.13,0.05],[1.15,-0.08],[1.17,0.01],[1.19,0.1],[1.21,-0.04],[1.23,0.04],[1.25,-0.08],[1.27,0.08],[1.29,0.0],[1.31,0.03],[1.33,-0.06],[1.35,0.06],[1.37,-0.02],[1.39,0.02],[1.41,-0.06],[1.43,0.07],[1.45,-0.02],[1.47,0.01],[1.49,0.06],[1.51,-0.05],[1.53,0.03],[1.55,-0.02],[1.57,0.05],[1.59,-0.04],[1.61,0.01],[1.63,0.04],[1.65,-0.03],[1.67,0.02],[1.69,-0.03],[1.71,0.04],[1.73,-0.01],[1.75,0.03],[1.77,-0.02],[1.79,0.01],[1.81,0.03],[1.84,-0.01],[1.87,0.02],[1.9,-0.01],[1.93,0.015],[1.96,-0.008],[1.99,0.01],[2.03,-0.005],[2.07,0.008],[2.11,-0.004],[2.15,0.006],[2.19,-0.003],[2.23,0.004],[2.28,-0.002],[2.33,0.003],[2.38,-0.001],[2.43,0.002],[2.48,-0.001],[2.53,0.002],[2.58,0.0],[2.63,0.001],[2.68,0.0],[2.73,0.001],[2.78,0.0],[2.83,0.001],[2.88,0.0],[2.93,0.0],[2.98,0.001],[3.03,0.0],[3.08,0.0],[0.82,0.06],[0.86,-0.05],[0.88,0.1],[0.92,-0.08],[0.96,0.02]];

// ---------------- BUILD ----------------
const rowsL = [
  {pts: outL1.concat(cloudL1, cloud2L1), med: medL1, up: upL1, lo: loL1},
  {pts: outL2.concat(cloudL2, cloud2L2), med: medL2, up: upL2, lo: loL2},
  {pts: outL3.concat(cloudL3, cloud2L3), med: medL3, up: upL3, lo: loL3},
  {pts: outL4.concat(cloudL4, cloud2L4), med: medL4, up: upL4, lo: loL4}
];
const rowsM = [
  {pts: outM1.concat(cloudM1, cloud2M1), mx: medXM1, med: medM1, bx: bandXM1, up: upM1, lo: loM1},
  {pts: outM2.concat(cloudM2, cloud2M2), mx: medXM2, med: medM2, bx: bandXM2, up: upM2, lo: loM2},
  {pts: outM3.concat(cloudM3, cloud2M3), mx: medXM3, med: medM3, bx: bandXM3, up: upM3, lo: loM3},
  {pts: outM4.concat(cloudM4, cloud2M4), mx: medXM4, med: medM4, bx: bandXM4, up: upM4, lo: loM4}
];
const hists = [hist1, hist2, hist3, hist4];

const W = 1273, H = 865;
const RED = '#b22222', BAND = 'rgba(178,34,34,0.4)', MED = '#8b0000';
const FONT = 'DejaVu Sans, Liberation Sans, sans-serif';
const colL = [65 / W, 583 / W], colM = [583 / W, 1097 / W], colH = [1133 / W, 1267 / W];
function rowDom(r) { const top = 2.5 + 204.4 * r, bot = top + 204.4; return [1 - bot / H, 1 - top / H]; }
function histDom(r) { const top = 36 + 204.7 * r, bot = top + 136; return [1 - bot / H, 1 - top / H]; }
const id = n => (n === 1 ? '' : String(n));

const traces = [];
const layout = {
  width: W, height: H, margin: {l: 0, r: 0, t: 0, b: 0},
  paper_bgcolor: '#fff', plot_bgcolor: 'rgba(0,0,0,0)', showlegend: false,
  font: {family: FONT, color: '#000'}, shapes: [], annotations: []
};
function baseAxis(extra) {
  return Object.assign({
    ticks: 'inside', ticklen: 6, tickwidth: 1.5, tickcolor: '#000',
    showline: true, linecolor: '#000', linewidth: 1, mirror: 'allticks',
    showgrid: false, zeroline: false, tickfont: {size: 15, color: '#000', family: FONT}
  }, extra);
}
function band(xs, up, lo, xa, ya) {
  return {x: xs.concat(xs.slice().reverse()), y: up.concat(lo.slice().reverse()),
    xaxis: xa, yaxis: ya, mode: 'lines', fill: 'toself', fillcolor: BAND,
    line: {width: 0, color: BAND}, hoverinfo: 'skip'};
}
function pts(p, xa, ya) {
  return {x: p.map(d => d[0]), y: p.map(d => d[1]), xaxis: xa, yaxis: ya, mode: 'markers',
    marker: {size: 4.6, color: RED, line: {width: 0}}, hoverinfo: 'skip'};
}
function medLine(xs, ys, xa, ya) {
  return {x: xs, y: ys, xaxis: xa, yaxis: ya, mode: 'lines', connectgaps: false,
    line: {color: MED, width: 2.6}, hoverinfo: 'skip'};
}
function frame(n) {
  layout.shapes.push({type: 'rect', layer: 'above', xref: 'x' + id(n) + ' domain', yref: 'y' + id(n) + ' domain',
    x0: 0, x1: 1, y0: 0, y1: 1, line: {color: '#000', width: 2}, fillcolor: 'rgba(0,0,0,0)'});
}

for (let r = 0; r < 4; r++) {
  const nL = 3 * r + 1, nM = 3 * r + 2, nH = 3 * r + 3;
  const last = r === 3;
  // left column
  const L = rowsL[r];
  traces.push(band(magBins, L.up, L.lo, 'x' + id(nL), 'y' + id(nL)));
  traces.push(pts(L.pts, 'x' + id(nL), 'y' + id(nL)));
  traces.push(medLine(magBins, L.med, 'x' + id(nL), 'y' + id(nL)));
  layout['xaxis' + id(nL)] = baseAxis({domain: colL, range: [30, 19.12], anchor: 'y' + id(nL),
    tickvals: magTicks, tickformat: 'd', showticklabels: last,
    title: last ? {text: magTitle, font: {size: 20, family: FONT}, standoff: 7} : undefined});
  layout['yaxis' + id(nL)] = baseAxis({domain: rowDom(r), range: [-0.5, 0.5], anchor: 'x' + id(nL),
    tickvals: dyTicks, tickformat: '.1f', showticklabels: true,
    title: {text: rowTitles[r], font: {size: 21, family: FONT}, standoff: 8}});
  // middle column
  const M = rowsM[r];
  traces.push(band(M.bx, M.up, M.lo, 'x' + id(nM), 'y' + id(nM)));
  traces.push(pts(M.pts, 'x' + id(nM), 'y' + id(nM)));
  traces.push(medLine(M.mx, M.med, 'x' + id(nM), 'y' + id(nM)));
  layout['xaxis' + id(nM)] = baseAxis({domain: colM, range: [0.2, 3.39], anchor: 'y' + id(nM),
    tickvals: snrTicks, tickformat: '.1f', showticklabels: last,
    title: last ? {text: snrTitle, font: {size: 20, family: FONT}, standoff: 7} : undefined});
  layout['yaxis' + id(nM)] = baseAxis({domain: rowDom(r), range: [-0.5, 0.5], anchor: 'x' + id(nM),
    tickvals: dyTicks, showticklabels: false});
  // reference lines
  [nL, nM].forEach(n => {
    refLevels.forEach(v => layout.shapes.push({type: 'line', layer: 'below',
      xref: 'x' + id(n) + ' domain', yref: 'y' + id(n), x0: 0, x1: 1, y0: v, y1: v,
      line: {color: v === 0 ? '#666' : '#999', width: 1, dash: 'dot'}}));
  });
  layout.shapes.push({type: 'line', layer: 'above', xref: 'x' + id(nM), yref: 'y' + id(nM) + ' domain',
    x0: snrCut, x1: snrCut, y0: 0, y1: 1, line: {color: '#000', width: 1.8, dash: 'dash'}});
  // histogram
  traces.push({type: 'bar', x: histCenters, y: hists[r], width: 0.5, xaxis: 'x' + id(nH), yaxis: 'y' + id(nH),
    marker: {color: RED, line: {width: 0.4, color: '#d04040'}}, hoverinfo: 'skip'});
  traces.push({x: gaussX, y: gaussY, xaxis: 'x' + id(nH), yaxis: 'y' + id(nH), mode: 'lines',
    line: {color: '#000', width: 2.2, shape: 'spline'}, hoverinfo: 'skip'});
  layout['xaxis' + id(nH)] = baseAxis({domain: colH, range: [-10.7, 10.7], anchor: 'y' + id(nH),
    tickvals: histXTicks, tickformat: 'd', mirror: true, tickfont: {size: 17, color: '#000', family: FONT},
    title: {text: histTitles[r], font: {size: 21, family: FONT}, standoff: 0}});
  layout['yaxis' + id(nH)] = baseAxis({domain: histDom(r), range: [0, 0.42], anchor: 'x' + id(nH),
    tickvals: histYTicks, tickformat: '.1f', mirror: true, tickfont: {size: 17, color: '#000', family: FONT}});
  [nL, nM, nH].forEach(frame);
}
layout.annotations.push({text: filterLabel, xref: 'paper', yref: 'paper', x: 1003 / W, y: 1 - 789 / H,
  xanchor: 'center', yanchor: 'middle', showarrow: false, font: {size: 32, color: RED, family: FONT}});
layout.bargap = 0;

Plotly.newPlot('chart', traces, layout, {staticPlot: true, displayModeBar: false});
</script>
</body></html>
